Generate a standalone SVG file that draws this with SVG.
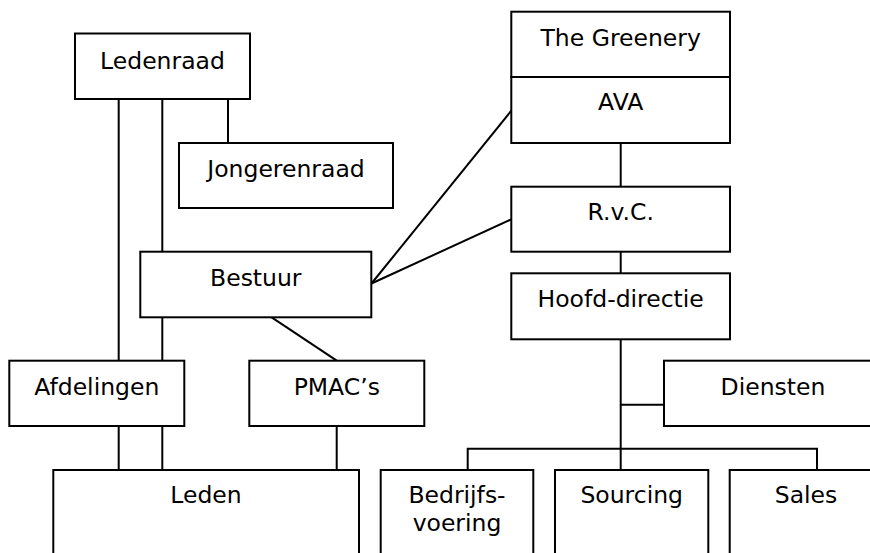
<svg xmlns="http://www.w3.org/2000/svg" width="870" height="553" viewBox="0 0 870 553">
<style>
rect{fill:#fff;stroke:#000;stroke-width:2}
line,polyline{fill:none;stroke:#000;stroke-width:2}
text{font-family:"DejaVu Sans",Verdana,sans-serif;font-size:23.5px;text-anchor:middle;fill:#000}
</style>
<rect x="0" y="0" width="870" height="553" style="stroke:none"/>
<g id="connectors">
<line x1="118.7" y1="99" x2="118.7" y2="360.7"/>
<line x1="162.3" y1="99" x2="162.3" y2="251.7"/>
<line x1="228" y1="99" x2="228" y2="143"/>
<line x1="162.3" y1="317.3" x2="162.3" y2="360.7"/>
<line x1="271.7" y1="317.3" x2="336.7" y2="360.7"/>
<line x1="118.7" y1="426" x2="118.7" y2="470"/>
<line x1="162.3" y1="426" x2="162.3" y2="470"/>
<line x1="336.7" y1="426" x2="336.7" y2="470"/>
<line x1="371.5" y1="283.5" x2="511.3" y2="110.7"/>
<line x1="371.5" y1="283.5" x2="511.3" y2="219.3"/>
<line x1="620.7" y1="143" x2="620.7" y2="186.7"/>
<line x1="620.7" y1="251.7" x2="620.7" y2="273.3"/>
<line x1="620.7" y1="339.3" x2="620.7" y2="470"/>
<line x1="620.7" y1="404.7" x2="664" y2="404.7"/>
<polyline points="467.7,470 467.7,448.7 817,448.7 817,470"/>
</g>
<g id="ledenraad"><rect x="75" y="33.5" width="175" height="65.5"/><text x="162.5" y="68.5">Ledenraad</text></g>
<g id="jongerenraad"><rect x="179" y="143" width="214" height="65"/><text x="286" y="177">Jongerenraad</text></g>
<g id="bestuur"><rect x="140.3" y="251.7" width="231" height="65.6"/><text x="255.8" y="286">Bestuur</text></g>
<g id="afdelingen"><rect x="9.3" y="360.7" width="175" height="65.3"/><text x="96.8" y="395">Afdelingen</text></g>
<g id="pmacs"><rect x="249.3" y="360.7" width="175" height="65.3"/><text x="336.8" y="395">PMAC’s</text></g>
<g id="leden"><rect x="53.3" y="470" width="305.7" height="100"/><text x="206" y="503">Leden</text></g>
<g id="greenery"><rect x="511.3" y="11.7" width="218.7" height="65.3"/><text x="620.7" y="45.7">The Greenery</text></g>
<g id="ava"><rect x="511.3" y="77" width="218.7" height="66"/><text x="620.7" y="110">AVA</text></g>
<g id="rvc"><rect x="511.3" y="186.7" width="218.7" height="65"/><text x="620.7" y="220">R.v.C.</text></g>
<g id="hoofddirectie"><rect x="511.3" y="273.3" width="218.7" height="66"/><text x="620.7" y="307.3">Hoofd-directie</text></g>
<g id="diensten"><rect x="664" y="360.7" width="218" height="65.3"/><text x="773" y="395">Diensten</text></g>
<g id="bedrijfsvoering"><rect x="380.7" y="470" width="152.6" height="100"/><text x="457" y="503">Bedrijfs-</text><text x="457" y="531">voering</text></g>
<g id="sourcing"><rect x="555" y="470" width="153.3" height="100"/><text x="631.7" y="503">Sourcing</text></g>
<g id="sales"><rect x="729.7" y="470" width="152.3" height="100"/><text x="806" y="503">Sales</text></g>
</svg>
